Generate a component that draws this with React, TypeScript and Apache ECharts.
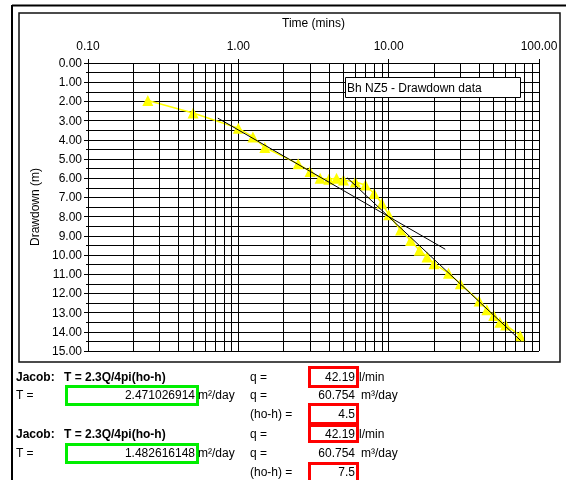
import React, { useEffect, useRef } from "react";
import * as echarts from "echarts";

const times = [0.25, 0.5, 1, 1.25, 1.5, 2.5, 3, 3.5, 4, 4.5, 5, 6, 7, 8, 9, 10, 12, 14, 16, 18, 20, 25, 30, 40, 45, 50, 55, 60, 75];
const drawdown = [1.95, 2.6, 3.4, 3.85, 4.4, 5.25, 5.65, 6.0, 6.05, 6.0, 6.1, 6.2, 6.35, 6.8, 7.3, 7.9, 8.7, 9.25, 9.75, 10.1, 10.45, 10.95, 11.5, 12.4, 12.85, 13.15, 13.5, 13.65, 14.2];
const fit1 = [[0.73, 2.87], [23.8, 9.7]];
const fit2 = [[5.3, 5.98], [75.6, 14.46]];
const minorTimes = [0.2, 0.3, 0.4, 0.5, 0.6, 0.7, 0.8, 0.9, 2, 3, 4, 5, 6, 7, 8, 9, 20, 30, 40, 50, 60, 70, 80, 90];

const chartTitle = "Bh NZ5 - Drawdown data";
const xName = "Time (mins)";
const yName = "Drawdown (m)";

const formula = "T = 2.3Q/4pi(ho-h)";
const tValues = ["2.471026914", "1.482616148"];
const qLmin = ["42.19", "42.19"];
const qM3 = ["60.754", "60.754"];
const dh = ["4.5", "7.5"];

const FONT = "Liberation Sans, Arial, sans-serif";

function txt(x: number, y: number, text: string, opts: any = {}) {
  return {
    type: "text",
    x,
    y,
    z: 100,
    style: {
      text,
      fill: "#000",
      font: `${opts.bold ? "bold " : ""}12px ${FONT}`,
      align: opts.align || "left",
      verticalAlign: "middle",
    },
  };
}

function box(x: number, y: number, w: number, h: number, color: string) {
  return {
    type: "rect",
    z: 90,
    shape: { x, y, width: w, height: h },
    style: { fill: "none", stroke: color, lineWidth: 3 },
  };
}

export default function App() {
  const ref = useRef<HTMLDivElement>(null);
  useEffect(() => {
    if (!ref.current) return;
    const chart = echarts.init(ref.current, null, { renderer: "svg" });
    const rowsY = [377, 395, 414, 434, 453, 472];
    const graphics: any[] = [
      { type: "line", z: 100, shape: { x1: 12, y1: 5.5, x2: 566, y2: 5.5 }, style: { stroke: "#000", lineWidth: 2 } },
      { type: "line", z: 100, shape: { x1: 12, y1: 5, x2: 12, y2: 480 }, style: { stroke: "#000", lineWidth: 2 } },
      { type: "rect", z: 100, shape: { x: 19, y: 13, width: 541, height: 349 }, style: { fill: "none", stroke: "#111", lineWidth: 1.5 } },
      { type: "rect", z: 100, shape: { x: 345.5, y: 77.5, width: 175, height: 20 }, style: { fill: "#fff", stroke: "#000", lineWidth: 1 } },
      txt(347, 87.5, chartTitle),
    ];
    for (let i = 0; i < 2; i++) {
      const b = i * 3;
      graphics.push(
        txt(16, rowsY[b], "Jacob:", { bold: true }),
        txt(64, rowsY[b], formula, { bold: true }),
        txt(250, rowsY[b], "q ="),
        txt(355, rowsY[b], qLmin[i], { align: "right" }),
        txt(359, rowsY[b], "l/min"),
        txt(16, rowsY[b + 1], "T ="),
        txt(195, rowsY[b + 1], tValues[i], { align: "right" }),
        txt(198, rowsY[b + 1], "m²/day"),
        txt(250, rowsY[b + 1], "q ="),
        txt(355, rowsY[b + 1], qM3[i], { align: "right" }),
        txt(361, rowsY[b + 1], "m³/day"),
        txt(250, rowsY[b + 2], "(ho-h) ="),
        txt(355, rowsY[b + 2], dh[i], { align: "right" })
      );
    }
    graphics.push(
      box(309.5, 367.5, 48, 19, "#ff0000"),
      box(66.5, 386.5, 131, 18, "#00ee00"),
      box(309.5, 404.5, 48, 19, "#ff0000"),
      box(309.5, 425.5, 48, 16, "#ff0000"),
      box(66.5, 444.5, 131, 18, "#00ee00"),
      box(309.5, 463.5, 48, 20, "#ff0000")
    );

    chart.setOption({
      animation: false,
      textStyle: { fontFamily: FONT },
      grid: { left: 88, right: 27, top: 63, bottom: 129, containLabel: false },
      xAxis: {
        type: "log",
        logBase: 10,
        min: 0.1,
        max: 100,
        position: "top",
        name: xName,
        nameLocation: "middle",
        nameGap: 34,
        nameTextStyle: { color: "#000", fontSize: 12, fontFamily: FONT },
        axisLine: { lineStyle: { color: "#000", width: 1 } },
        axisTick: { show: true, length: 4, lineStyle: { color: "#000" } },
        axisLabel: { color: "#000", fontSize: 12, fontFamily: FONT, margin: 11, formatter: (v: number) => Number(v).toFixed(2) },
        splitLine: { show: true, lineStyle: { color: "#000", width: 1 } },
      },
      yAxis: {
        type: "value",
        inverse: true,
        min: 0,
        max: 15,
        interval: 1,
        name: yName,
        nameLocation: "middle",
        nameGap: 45,
        nameRotate: 90,
        nameTextStyle: { color: "#000", fontSize: 12, fontFamily: FONT },
        axisLine: { show: true, lineStyle: { color: "#000", width: 1 } },
        axisTick: { show: true, length: 4, lineStyle: { color: "#000" } },
        minorTick: { show: true, splitNumber: 2, length: 2, lineStyle: { color: "#000" } },
        axisLabel: { color: "#000", fontSize: 12, fontFamily: FONT, margin: 6, formatter: (v: number) => Number(v).toFixed(2) },
        splitLine: { show: true, lineStyle: { color: "#000", width: 1 } },
        minorSplitLine: { show: true, lineStyle: { color: "#000", width: 1 } },
      },
      series: [
        {
          type: "line",
          z: 1,
          data: [],
          silent: true,
          markLine: {
            silent: true,
            symbol: ["none", "none"],
            label: { show: false },
            lineStyle: { color: "#000", width: 1, type: "solid" },
            data: minorTimes.map((t) => ({ xAxis: t })),
          },
        },
        {
          type: "line",
          z: 3,
          data: times.map((t, i) => [t, drawdown[i]]),
          symbol: "triangle",
          symbolSize: 11,
          itemStyle: { color: "#ffff00" },
          lineStyle: { color: "#ffff00", width: 1.5 },
        },
        {
          type: "line",
          z: 4,
          data: fit1,
          symbol: "none",
          lineStyle: { color: "#000", width: 1 },
        },
        {
          type: "line",
          z: 4,
          data: fit2,
          symbol: "none",
          lineStyle: { color: "#000", width: 1 },
        },
      ],
      graphic: graphics,
    });
    return () => chart.dispose();
  }, []);
  return <div ref={ref} style={{ position: "fixed", left: 0, top: 0, width: 566, height: 480 }} />;
}
